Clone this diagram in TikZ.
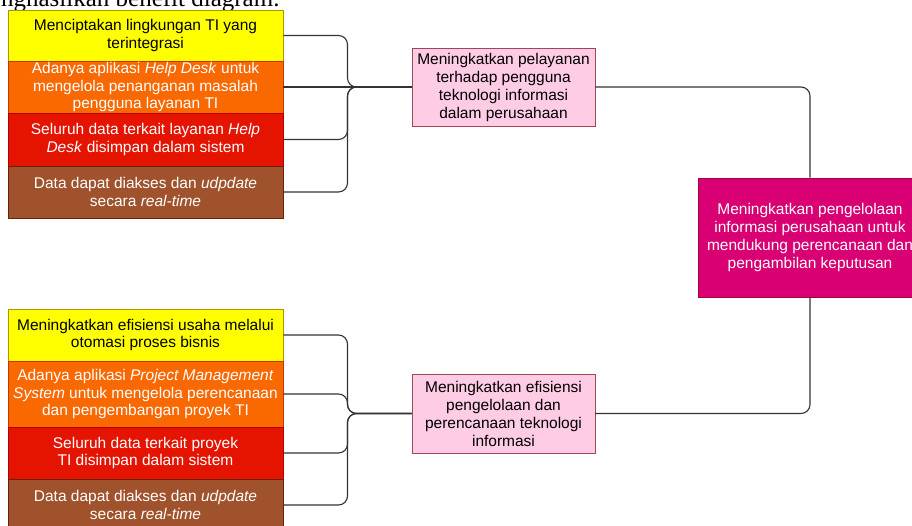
\documentclass[tikz,border=0pt]{standalone}
\usepackage{fontspec}
\setmainfont{Liberation Sans}
\newfontfamily\headfont{Liberation Serif}

\definecolor{tiyellow}{HTML}{FFFF00}
\definecolor{tiyellowline}{HTML}{B09500}
\definecolor{tiorange}{HTML}{FA6800}
\definecolor{tiorangeline}{HTML}{C73500}
\definecolor{tired}{HTML}{E51400}
\definecolor{tiredline}{HTML}{B20000}
\definecolor{tibrown}{HTML}{A0522D}
\definecolor{tibrownline}{HTML}{6D1F00}
\definecolor{tipink}{HTML}{FFCCE6}
\definecolor{tipinkline}{HTML}{A3445A}
\definecolor{timagenta}{HTML}{D80073}
\definecolor{timagentaline}{HTML}{A50040}
\definecolor{linkgray}{HTML}{333333}

\begin{document}
\begin{tikzpicture}[x=1pt, y=-1pt,
                    box/.style  = {draw, line width=0.8pt, minimum width=275, inner sep=0pt,
                                   align=center, font=\fontsize{15.5}{17.5}\selectfont},
                    goal/.style = {draw, line width=0.8pt, inner sep=0pt, align=center,
                                   font=\fontsize{15.5}{18}\selectfont},
                    link/.style = {draw=linkgray, line width=1.1pt, rounded corners=9pt}]
                    \clip (0,0) rectangle (912,526);

                    % caption line cut by the page
                    \node[anchor=base east, font=\headfont\fontsize{25}{25}\selectfont] (head) at (283,7) {menghasilkan benefit diagram.};

                    % top stack
                    \node[box, fill=tiyellow, draw=tiyellowline, minimum height=51] (y1) at (145.5,35.5)
                        {Menciptakan lingkungan TI yang\\terintegrasi};
                    \node[box, fill=tiorange, draw=tiorangeline, text=white, minimum height=52] (o1) at (145.5,87)
                        {Adanya aplikasi \textit{Help Desk} untuk\\mengelola penanganan masalah\\pengguna layanan TI};
                    \node[box, fill=tired, draw=tiredline, text=white, minimum height=53] (r1) at (145.5,139.5)
                        {Seluruh data terkait layanan \textit{Help}\\\textit{Desk} disimpan dalam sistem};
                    \node[box, fill=tibrown, draw=tibrownline, text=white, minimum height=52] (d1) at (145.5,192)
                        {Data dapat diakses dan \textit{udpdate}\\secara \textit{real-time}};

                    % bottom stack
                    \node[box, fill=tiyellow, draw=tiyellowline, minimum height=52] (y2) at (145.5,335)
                        {Meningkatkan efisiensi usaha melalui\\otomasi proses bisnis};
                    \node[box, fill=tiorange, draw=tiorangeline, text=white, minimum height=66] (o2) at (145.5,394)
                        {Adanya aplikasi \textit{Project Management}\\\textit{System} untuk mengelola perencanaan\\dan pengembangan proyek TI};
                    \node[box, fill=tired, draw=tiredline, text=white, minimum height=52] (r2) at (145.5,453)
                        {Seluruh data terkait proyek\\TI disimpan dalam sistem};
                    \node[box, fill=tibrown, draw=tibrownline, text=white, minimum height=52] (d2) at (145.5,505)
                        {Data dapat diakses dan \textit{udpdate}\\secara \textit{real-time}};

                    % goals
                    \node[goal, fill=tipink, draw=tipinkline, minimum width=183, minimum height=78] (p1) at (503.5,87)
                        {Meningkatkan pelayanan\\terhadap pengguna\\teknologi informasi\\dalam perusahaan};
                    \node[goal, fill=tipink, draw=tipinkline, minimum width=183, minimum height=79] (p2) at (503.5,413.5)
                        {Meningkatkan efisiensi\\pengelolaan dan\\perencanaan teknologi\\informasi};
                    \node[goal, fill=timagenta, draw=timagentaline, text=white, minimum width=224, minimum height=119] (m) at (810,237.5)
                        {Meningkatkan pengelolaan\\informasi perusahaan untuk\\mendukung perencanaan dan\\pengambilan keputusan};

                    % brace points
                    \coordinate (b1) at (347.5,87);
                    \coordinate (b2) at (347.5,413.5);

                    % top
                    \draw[link] (y1.east) -| (b1) -- (p1.west);
                    \draw[link] (o1.east) -- (p1.west);
                    \draw[link] (r1.east) -| (b1) -- (p1.west);
                    \draw[link] (d1.east) -| (b1) -- (p1.west);

                    % bottom
                    \draw[link] (y2.east) -| (b2) -- (p2.west);
                    \draw[link] (o2.east) -| (b2) -- (p2.west);
                    \draw[link] (r2.east) -| (b2) -- (p2.west);
                    \draw[link] (d2.east) -| (b2) -- (p2.west);

                    % right
                    \draw[link] (p1.east) -| (m.north);
                    \draw[link] (p2.east) -| (m.south);

                \end{tikzpicture}
\end{document}
